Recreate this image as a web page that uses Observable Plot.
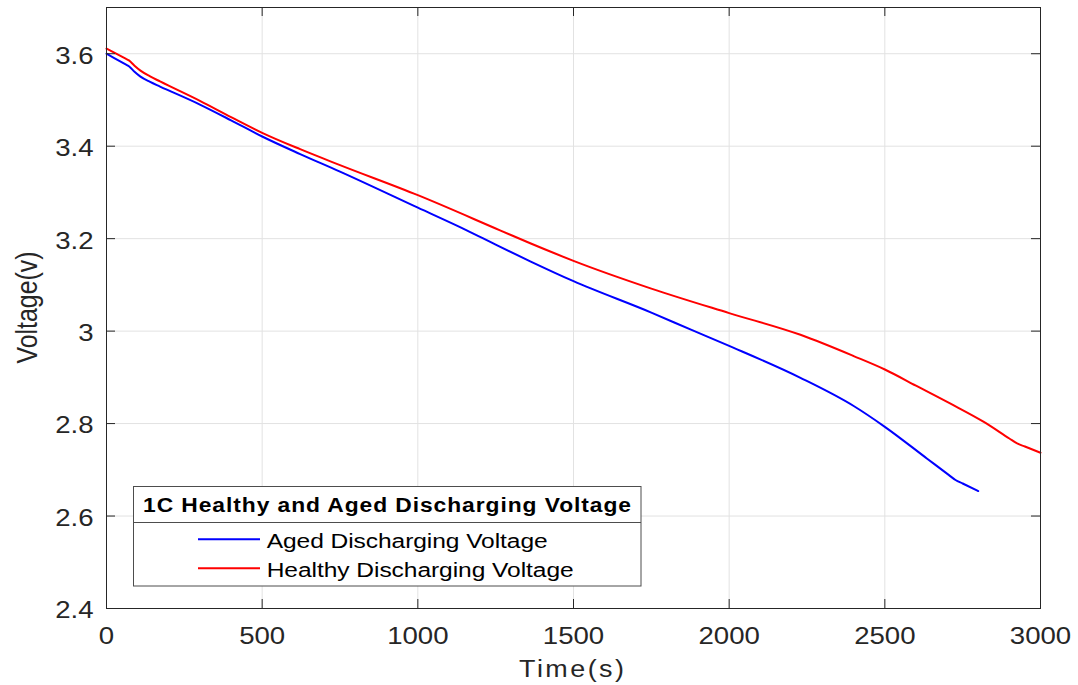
<!DOCTYPE html>
<html>
<head>
<meta charset="utf-8">
<script src="https://cdn.jsdelivr.net/npm/d3@7"></script>
<script src="https://cdn.jsdelivr.net/npm/@observablehq/plot@0.6"></script>
<style>
  body { margin: 0; background: #fff; }
  #chart { position: relative; width: 1078px; height: 685px; }
</style>
</head>
<body>
<div id="chart"></div>
<script>
// ---- Data ----
const agedTime    = [0, 60, 72, 90, 108, 140, 172, 300, 400, 500, 622, 750, 1000, 1157, 1250, 1361, 1500, 1750, 1881, 2000, 2229, 2400, 2500, 2636, 2705, 2727, 2750, 2800];
const agedVoltage = [3.600, 3.5775, 3.573, 3.561, 3.551, 3.539, 3.529, 3.490, 3.456, 3.421, 3.383, 3.345, 3.267, 3.218, 3.187, 3.151, 3.108, 3.040, 3.002, 2.968, 2.899, 2.838, 2.793, 2.724, 2.689, 2.678, 2.6704, 2.654];

const healthyTime    = [0, 60, 72, 90, 108, 140, 172, 300, 400, 500, 622, 750, 1000, 1264, 1361, 1500, 1750, 2000, 2229, 2400, 2500, 2600, 2711, 2818, 2900, 2925, 2950, 3000];
const healthyVoltage = [3.611, 3.5898, 3.5855, 3.574, 3.564, 3.551, 3.540, 3.498, 3.463, 3.429, 3.3935, 3.359, 3.294, 3.218, 3.190, 3.152, 3.092, 3.039, 2.992, 2.946, 2.917, 2.882, 2.843, 2.8035, 2.7677, 2.757, 2.7503, 2.737];

const xTicks = [0, 500, 1000, 1500, 2000, 2500, 3000];
const yTicks = [2.4, 2.6, 2.8, 3, 3.2, 3.4, 3.6];
const xDomain = [0, 3000];
const yDomain = [2.4, 3.7];

const seriesNames  = ["Aged Discharging Voltage", "Healthy Discharging Voltage"];
const seriesColors = ["#0000ff", "#ff0000"];
const legendTitle  = "1C Healthy and Aged Discharging Voltage";
const xLabel = "Time(s)";
const yLabel = "Voltage(v)";

// ---- Build tables ----
const aged    = agedTime.map((t, i) => ({t, v: agedVoltage[i]}));
const healthy = healthyTime.map((t, i) => ({t, v: healthyVoltage[i]}));

const font = "'Liberation Sans', Arial, Helvetica, sans-serif";
const ink = "#262626";
const gridColor = "#e2e2e2";

const W = 1078, H = 685, mL = 106, mR = 38, mT = 7, mB = 77;
const innerW = W - mL - mR, innerH = H - mT - mB;
const tk = 9; // inward tick length

const chart = Plot.plot({
  width: W,
  height: H,
  marginLeft: mL,
  marginRight: mR,
  marginTop: mT,
  marginBottom: mB,
  style: {fontFamily: font, background: "#fff", color: ink},
  x: {domain: xDomain},
  y: {domain: yDomain},
  marks: [
    Plot.gridX(xTicks, {stroke: gridColor, strokeOpacity: 1}),
    Plot.gridY(yTicks, {stroke: gridColor, strokeOpacity: 1}),
    Plot.line(aged, {x: "t", y: "v", stroke: seriesColors[0], strokeWidth: 2, curve: "monotone-x"}),
    Plot.line(healthy, {x: "t", y: "v", stroke: seriesColors[1], strokeWidth: 2, curve: "monotone-x"}),
    // inward ticks on all four sides
    Plot.tickX(xTicks, {x: d => d, stroke: ink, insetTop: innerH - tk}),
    Plot.tickX(xTicks, {x: d => d, stroke: ink, insetBottom: innerH - tk}),
    Plot.tickY(yTicks, {y: d => d, stroke: ink, insetRight: innerW - tk}),
    Plot.tickY(yTicks, {y: d => d, stroke: ink, insetLeft: innerW - tk}),
    Plot.frame({stroke: ink, strokeWidth: 1}),
    // tick labels
    Plot.axisX(xTicks, {anchor: "bottom", tickSize: 0, tickPadding: 19, label: null, fontSize: 23, fill: ink, tickFormat: d => String(d)}),
    Plot.axisY(yTicks, {anchor: "left", tickSize: 0, tickPadding: 13, dy: 2.5, label: null, fontSize: 23, fill: ink, tickFormat: d => String(d)})
  ]
});

document.getElementById("chart").appendChild(chart);

// Widen tick labels slightly (reference text is horizontally stretched)
chart.querySelectorAll('g[aria-label$="tick label"] text').forEach(t => {
  const tr = t.getAttribute("transform");
  if (tr) {
    t.setAttribute("transform", tr + " scale(1.2,1)");
  } else {
    const x = +t.getAttribute("x") || 0, y = +t.getAttribute("y") || 0;
    t.removeAttribute("x"); t.removeAttribute("y");
    t.setAttribute("transform", `translate(${x},${y}) scale(1.2,1)`);
  }
});

const svg = d3.select(chart);

function addText(g, str, {x, y, size, weight = "normal", anchor = "start", sx = 1.17, len, color = ink}) {
  const t = g.append("text")
    .attr("transform", `translate(${x},${y}) scale(${sx},1)`)
    .attr("text-anchor", anchor)
    .attr("font-family", font)
    .attr("font-size", size)
    .attr("font-weight", weight)
    .attr("fill", color)
    .text(str);
  if (len) t.attr("textLength", len / sx).attr("lengthAdjust", "spacing");
  return t;
}

// Axis titles
addText(svg, xLabel, {x: 571.5, y: 676.7, size: 23, anchor: "middle", len: 105});
svg.append("text")
  .attr("transform", "translate(36.7,307.5) rotate(-90) scale(1,1.2)")
  .attr("text-anchor", "middle")
  .attr("font-family", font)
  .attr("font-size", 25)
  .attr("fill", ink)
  .attr("textLength", 112)
  .attr("lengthAdjust", "spacingAndGlyphs")
  .text(yLabel);

// Legend box
const lg = svg.append("g");
lg.append("rect")
  .attr("x", 133.5).attr("y", 486.5).attr("width", 507.5).attr("height", 99.5)
  .attr("fill", "#fff").attr("stroke", "#4d4d4d").attr("stroke-width", 1);
lg.append("line")
  .attr("x1", 133.5).attr("x2", 641).attr("y1", 522.5).attr("y2", 522.5)
  .attr("stroke", "#4d4d4d").attr("stroke-width", 1);
addText(lg, legendTitle, {x: 387, y: 512.3, size: 19.5, weight: "bold", anchor: "middle", len: 488, color: "#000"});
const entryY = [539.3, 568.3];
const entryLen = [281, 307];
seriesNames.forEach((name, i) => {
  lg.append("line")
    .attr("x1", 198).attr("x2", 260).attr("y1", entryY[i]).attr("y2", entryY[i])
    .attr("stroke", seriesColors[i]).attr("stroke-width", 2);
  addText(lg, name, {x: 266.7, y: entryY[i] + 9, size: 21, len: entryLen[i], color: "#000"});
});
</script>
</body>
</html>
